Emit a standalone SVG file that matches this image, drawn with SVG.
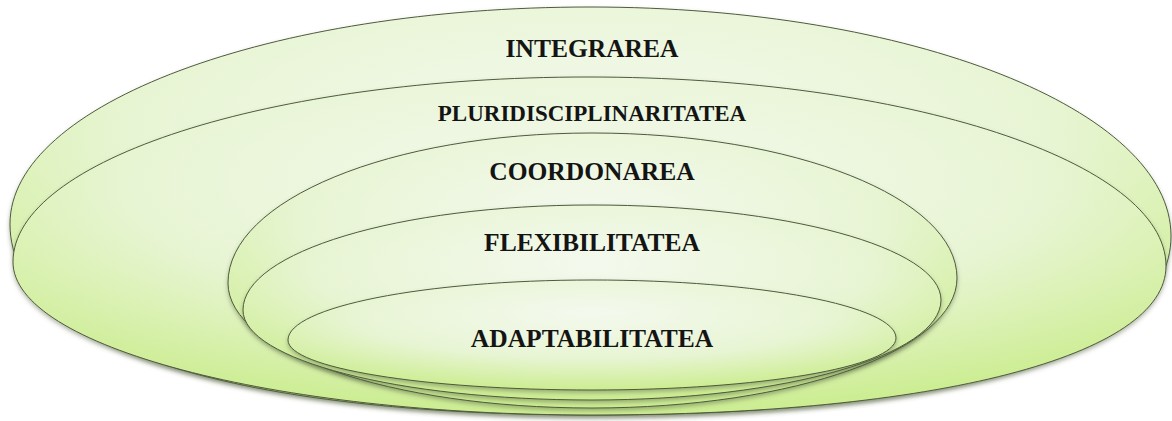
<svg xmlns="http://www.w3.org/2000/svg" width="1172" height="421" viewBox="0 0 1172 421">
  <defs>
    <radialGradient id="fillG" cx="50%" cy="32%" r="72%" fx="50%" fy="30%">
      <stop offset="0" stop-color="#f4f9ee"/>
      <stop offset="0.55" stop-color="#e8f5d4"/>
      <stop offset="1" stop-color="#c8ec88"/>
    </radialGradient>
    <filter id="shadow" x="-5%" y="-10%" width="110%" height="125%">
      <feDropShadow dx="0" dy="2.5" stdDeviation="2" flood-color="#55603f" flood-opacity="0.45"/>
    </filter>
  </defs>
  <style>
    .disc { fill: url(#fillG); stroke: #4f5a3d; stroke-width: 1; filter: url(#shadow); }
    .lbl { font-family: 'Liberation Serif', 'DejaVu Serif', serif; font-weight: bold; fill: #141414; text-anchor: middle; }
  </style>
  <rect width="1172" height="421" fill="#ffffff"/>

  <g id="integrarea">
    <path class="disc" d="M10,224 C10,104 270,7 590,7 C911,7 1171,110 1171,236 C1171,358 936,415 592,415 C272,415 10,358 10,224 Z"/>
    <text class="lbl" font-family="Liberation Serif, serif" x="592" y="57" font-size="25.5">INTEGRAREA</text>
  </g>

  <g id="pluridisciplinaritatea">
    <path class="disc" d="M13,262 C13,160 270,77 588,77 C907,77 1166,162 1166,266 C1166,356 936,415 592,415 C272,415 13,346 13,262 Z"/>
    <text class="lbl" font-family="Liberation Serif, serif" x="592" y="121" font-size="23">PLURIDISCIPLINARITATEA</text>
  </g>

  <g id="coordonarea">
    <path class="disc" d="M228,283 C228,200 391,133 592,133 C794,133 957,198 957,278 C957,350 794,408 592,408 C391,408 228,352 228,283 Z"/>
    <text class="lbl" font-family="Liberation Serif, serif" x="592" y="180" font-size="25.5">COORDONAREA</text>
  </g>

  <g id="flexibilitatea">
    <path class="disc" d="M243,310 C243,252 399,205 592,205 C785,205 941,247.5 941,300 C941,355 785,400 592,400 C399,400 243,360 243,310 Z"/>
    <text class="lbl" font-family="Liberation Serif, serif" x="592" y="251" font-size="25.5">FLEXIBILITATEA</text>
  </g>

  <g id="adaptabilitatea">
    <path class="disc" d="M288,340 C288,307 424,280 592,280 C760,280 896,306 896,338 C896,367 760,390 592,390 C424,390 288,368 288,340 Z"/>
    <text class="lbl" font-family="Liberation Serif, serif" x="592" y="347" font-size="25.5">ADAPTABILITATEA</text>
  </g>
</svg>
